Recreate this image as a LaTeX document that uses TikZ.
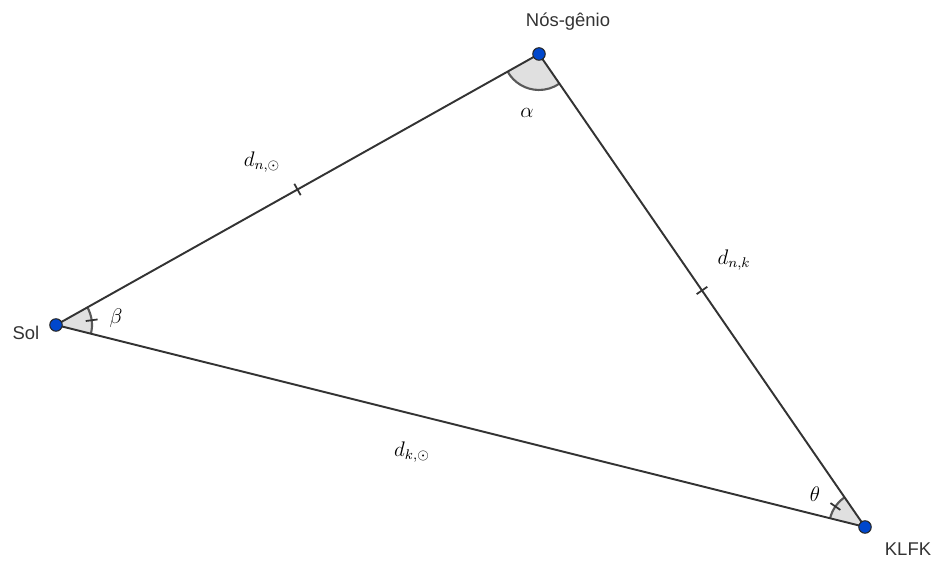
\documentclass[tikz,border=0pt]{standalone}
\usepackage{amsmath,amssymb}
\usepackage{fontspec}
\newfontfamily\labelfont{Liberation Sans}
\usetikzlibrary{angles, decorations.markings, calc}

\begin{document}
\begin{tikzpicture}[
    side/.style={draw=black!80, line width=1.1pt},
    tickmid/.style={decoration={markings, mark=at position 0.5 with {\draw[black!80, line width=1pt] (0,-0.13) -- (0,0.13);}}, postaction=decorate},
    ang/.style={draw=black!65, line width=1.2pt, fill=black!12, angle radius=0.72cm},
    pt/.style={circle, draw=black!85, fill=blue!65!cyan!80!black, line width=0.6pt, minimum size=0.25cm, inner sep=0},
    vname/.style={font=\labelfont\fontsize{10.5}{12}\selectfont, text=black!80},
    lbl/.style={font=\large}
]
    \useasboundingbox (0,0) rectangle (18.76,11.24);

    % vertices
    \coordinate (sol) at (1.12, 4.74);
    \coordinate (ng) at (10.78, 10.16);
    \coordinate (kl) at (17.30, 0.70);

    % angle sectors
    \pic[ang] {angle = kl--sol--ng};
    \pic[ang] {angle = sol--ng--kl};
    \pic[ang] {angle = ng--kl--sol};

    % ticks on beta and theta
    \draw[black!80, line width=1pt] ($(sol)+(7.6:0.60)$) -- ($(sol)+(7.6:0.84)$);
    \draw[black!80, line width=1pt] ($(kl)+(145.3:0.60)$) -- ($(kl)+(145.3:0.84)$);

    % sides
    \draw[side, tickmid] (sol) -- (ng);
    \draw[side, tickmid] (ng) -- (kl);
    \draw[side] (kl) -- (sol);

    % points
    \node[pt] (solpt) at (sol) {};
    \node[pt] (ngpt) at (ng) {};
    \node[pt] (klpt) at (kl) {};

    % names
    \node[vname] (solname) at (0.52, 4.58) {Sol};
    \node[vname] (ngname) at (11.36, 10.80) {Nós-gênio};
    \node[vname] (klname) at (18.16, 0.26) {KLFK};

    % lengths and angles
    \node[lbl] (dns) at (5.24, 8.00) {$d_{n,\odot}$};
    \node[lbl] (dnk) at (14.68, 6.04) {$d_{n,k}$};
    \node[lbl] (dks) at (8.24, 2.20) {$d_{k,\odot}$};
    \node[lbl] (alpha) at (10.54, 8.98) {$\alpha$};
    \node[lbl] (beta) at (2.32, 4.88) {$\beta$};
    \node[lbl] (theta) at (16.30, 1.36) {$\theta$};
\end{tikzpicture}
\end{document}
